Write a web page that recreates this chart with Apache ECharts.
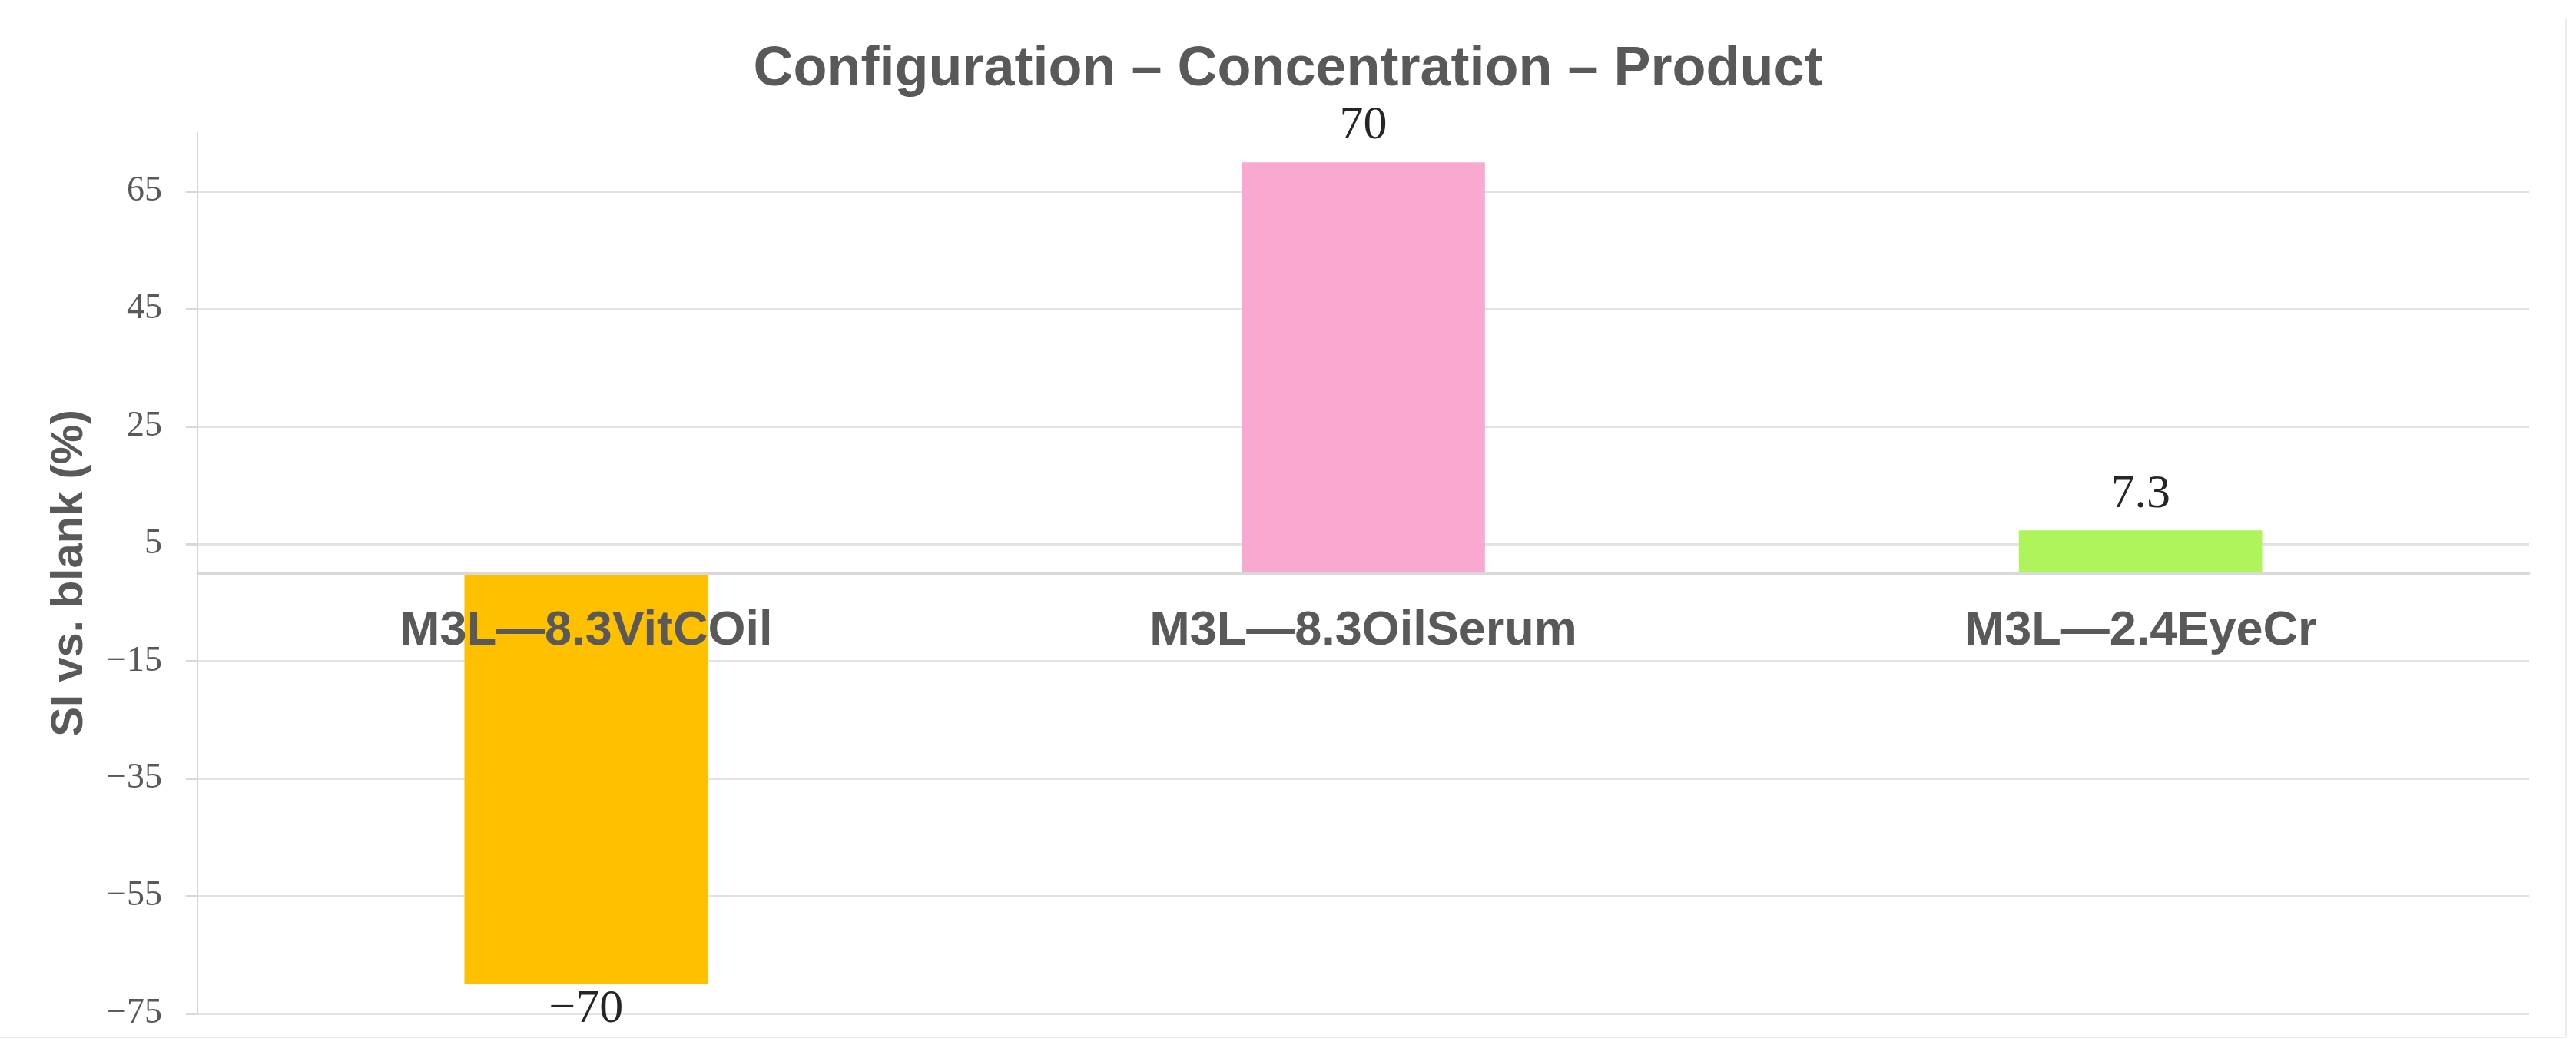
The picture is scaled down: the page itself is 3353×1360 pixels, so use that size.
<!DOCTYPE html>
<html>
<head>
<meta charset="utf-8">
<script src="https://cdn.jsdelivr.net/npm/echarts@6/dist/echarts.min.js"></script>
<style>html,body{margin:0;padding:0;background:#fff}#c{width:3353px;height:1360px}</style>
</head>
<body>
<div id="c"></div>
<script>
const titleText = 'Configuration – Concentration – Product';
const yAxisTitle = 'SI vs. blank (%)';
const categories = ['M3L—8.3VitCOil', 'M3L—8.3OilSerum', 'M3L—2.4EyeCr'];
const values = [-70, 70, 7.3];
const barColors = ['#FFC000', '#F9A8D0', '#ADF55B'];
const yTicks = [-75, -55, -35, -15, 5, 25, 45, 65];
const yMin = -75, yMax = 75, yStep = 20;

const fmt = v => String(v).replace('-', '−');

const chart = echarts.init(document.getElementById('c'), null, {renderer: 'canvas'});
chart.setOption({
  backgroundColor: '#ffffff',
  animation: false,
  title: {
    text: titleText, left: 'center', top: 50,
    textStyle: {fontFamily: 'Liberation Sans', fontWeight: 'bold', fontSize: 72, color: '#595959'}
  },
  grid: {left: 257, right: 61, top: 173, bottom: 41, containLabel: false, outerBoundsMode: 'none'},
  xAxis: {
    type: 'category', data: categories, z: 10,
    axisLine: {show: true, onZero: true, lineStyle: {color: '#d9d9d9', width: 3}},
    axisTick: {show: false},
    axisLabel: {show: false}
  },
  yAxis: {
    type: 'value', min: yMin, max: yMax, interval: yStep,
    name: yAxisTitle, nameLocation: 'middle', nameRotate: 90, nameGap: 137,
    nameTextStyle: {fontFamily: 'Liberation Sans', fontWeight: 'bold', fontSize: 58, color: '#595959'},
    axisLine: {show: true, lineStyle: {color: '#d6d6d6', width: 2}},
    axisTick: {show: true, length: 15, customValues: yTicks, lineStyle: {color: '#d9d9d9', width: 3}},
    axisLabel: {margin: 46, customValues: yTicks, fontFamily: 'Liberation Serif', fontSize: 46, color: '#595959', formatter: fmt},
    splitLine: {show: true, lineStyle: {color: '#e3e3e3', width: 3}}
  },
  series: [{
    type: 'bar', barWidth: '31.3%', z: 2,
    data: values.map((v, i) => ({
      value: v,
      itemStyle: {color: barColors[i]},
      label: {position: v < 0 ? 'bottom' : 'top', distance: v < 0 ? 2 : 16}
    })),
    label: {show: true, fontFamily: 'Liberation Serif', fontSize: 62, color: '#262626', formatter: p => fmt(p.value)}
  }, {
    type: 'scatter', z: 6, silent: true, symbolSize: 0,
    itemStyle: {opacity: 1},
    data: categories.map(c => ({name: c, value: [c, 0]})),
    label: {show: true, opacity: 1, position: 'bottom', distance: 44, fontFamily: 'Liberation Sans', fontWeight: 'bold', fontSize: 63, color: '#595959', formatter: p => p.name}
  }],
  graphic: [
    {type: 'line', shape: {x1: 3340, y1: 25, x2: 3340, y2: 1350}, style: {stroke: '#ececec', lineWidth: 2}, silent: true},
    {type: 'line', shape: {x1: 0, y1: 1350, x2: 3340, y2: 1350}, style: {stroke: '#ececec', lineWidth: 2}, silent: true}
  ]
});
</script>
</body>
</html>
